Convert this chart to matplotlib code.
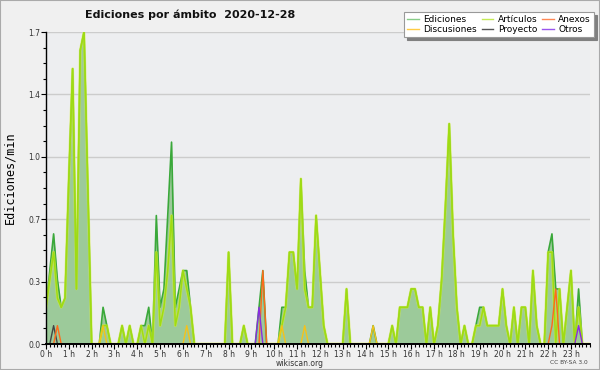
import matplotlib.pyplot as plt
import numpy as np
from matplotlib.lines import Line2D
from matplotlib.patches import Rectangle
from matplotlib.ticker import FixedLocator, MultipleLocator

plt.rcParams.update({
    "font.family": "DejaVu Sans",
    "axes.linewidth": 1.0,
})

# ---------------------------------------------------------------------------
# Data: edits per minute, 10-minute bins (6 per hour), 2020-12-28
# ---------------------------------------------------------------------------
ediciones = [
    0.2, 0.4, 0.6, 0.35, 0.2, 0.25,   # 0 h
    0.9, 1.5, 0.3, 1.6, 1.7, 0.85,    # 1 h
    0, 0, 0, 0.2, 0.1, 0,             # 2 h
    0, 0, 0.1, 0, 0.1, 0,             # 3 h
    0, 0.1, 0.1, 0.2, 0, 0.7,         # 4 h
    0.2, 0.3, 0.7, 1.1, 0.2, 0.3,     # 5 h
    0.4, 0.4, 0.2, 0, 0, 0,           # 6 h
    0, 0, 0, 0, 0, 0,                 # 7 h
    0.5, 0, 0, 0, 0.1, 0,             # 8 h
    0, 0, 0.2, 0.4, 0, 0,             # 9 h
    0, 0, 0.2, 0.2, 0.5, 0.5,         # 10 h
    0.3, 0.9, 0.4, 0.2, 0.2, 0.7,     # 11 h
    0.4, 0.1, 0, 0, 0, 0,             # 12 h
    0, 0.3, 0, 0, 0, 0,               # 13 h
    0, 0, 0.1, 0, 0, 0,               # 14 h
    0, 0.1, 0, 0.2, 0.2, 0.2,         # 15 h
    0.3, 0.3, 0.2, 0.2, 0, 0.2,       # 16 h
    0, 0.1, 0.35, 0.75, 1.2, 0.6,     # 17 h
    0.2, 0, 0.1, 0, 0, 0.1,           # 18 h
    0.2, 0.2, 0.1, 0.1, 0.1, 0.1,     # 19 h
    0.3, 0.1, 0, 0.2, 0, 0.2,         # 20 h
    0.2, 0, 0.4, 0.1, 0, 0,           # 21 h
    0.5, 0.6, 0.3, 0.3, 0, 0.2,       # 22 h
    0.4, 0, 0.3, 0, 0, 0,             # 23 h
]
articulos = [
    0.2, 0.35, 0.5, 0.25, 0.2, 0.25,
    0.9, 1.5, 0.3, 1.6, 1.7, 0.85,
    0, 0, 0, 0.1, 0.1, 0,
    0, 0, 0.1, 0, 0.1, 0,
    0, 0.1, 0, 0.1, 0, 0.5,
    0.1, 0.2, 0.4, 0.7, 0.1, 0.2,
    0.4, 0.3, 0.2, 0, 0, 0,
    0, 0, 0, 0, 0, 0,
    0.5, 0, 0, 0, 0.1, 0,
    0, 0, 0, 0, 0, 0,
    0, 0, 0.1, 0.2, 0.5, 0.5,
    0.3, 0.9, 0.3, 0.2, 0.2, 0.7,
    0.4, 0.1, 0, 0, 0, 0,
    0, 0.3, 0, 0, 0, 0,
    0, 0, 0, 0, 0, 0,
    0, 0.1, 0, 0.2, 0.2, 0.2,
    0.3, 0.3, 0.2, 0.2, 0, 0.2,
    0, 0.1, 0.35, 0.75, 1.2, 0.6,
    0.2, 0, 0.1, 0, 0, 0.1,
    0.1, 0.2, 0.1, 0.1, 0.1, 0.1,
    0.3, 0.1, 0, 0.2, 0, 0.2,
    0.2, 0, 0.4, 0.1, 0, 0,
    0.5, 0.5, 0, 0.3, 0, 0.2,
    0.4, 0, 0.2, 0, 0, 0,
]
# sparse series: bin index -> value
discusiones_bins = [15, 37, 62, 68, 86]
discusiones_vals = [0.1, 0.1, 0.1, 0.1, 0.1]
proyecto_bins = [2]
proyecto_vals = [0.1]
anexos_bins = [3, 57, 133, 134]
anexos_vals = [0.1, 0.4, 0.1, 0.3]
otros_bins = [56, 140]
otros_vals = [0.2, 0.1]

hour_labels = [f"{h} h" for h in range(24)]

# ---------------------------------------------------------------------------
# Colours
# ---------------------------------------------------------------------------
FILL_COLOR = "#9cca9a"
ED_COLOR = "#3aa83a"
ART_COLOR = "#9fdc12"
ART_GLOW = "#d9f03a"
DISC_COLOR = "#f5c21b"
PROY_COLOR = "#444444"
ANEX_COLOR = "#ff6a1a"
OTROS_COLOR = "#8a2be2"

n_bins = len(ediciones)
x = np.arange(n_bins) / 6.0


def sparse(bins, vals):
    arr = np.zeros(n_bins)
    arr[bins] = vals
    return arr


disc = sparse(discusiones_bins, discusiones_vals)
proy = sparse(proyecto_bins, proyecto_vals)
anex = sparse(anexos_bins, anexos_vals)
otros = sparse(otros_bins, otros_vals)

# ---------------------------------------------------------------------------
# Figure
# ---------------------------------------------------------------------------
fig = plt.figure(figsize=(6, 3.7), dpi=100, facecolor="#f0f0f0")
ax = fig.add_axes([46 / 600, 26 / 370, 544 / 600, 312 / 370])
ax.set_facecolor("#edeef0")

ax.fill_between(x, ediciones, 0, color=FILL_COLOR, lw=0, zorder=1.5)
ax.plot(x, ediciones, color=ED_COLOR, lw=1.2, zorder=2.0)
ax.plot(x, articulos, color=ART_GLOW, lw=2.0, alpha=0.6, zorder=2.1)
ax.plot(x, articulos, color=ART_COLOR, lw=1.1, zorder=2.2)
ax.plot(x, disc, color=DISC_COLOR, lw=1.0, zorder=2.3)
ax.plot(x, proy, color=PROY_COLOR, lw=1.0, zorder=2.3)
ax.plot(x, anex, color=ANEX_COLOR, lw=1.0, zorder=2.4)
ax.plot(x, otros, color=OTROS_COLOR, lw=1.0, zorder=2.4)

ymax = max(ediciones)
ax.set_xlim(0, x[-1])
ax.set_ylim(0, ymax)
yt = np.linspace(0, ymax, 6)
ax.yaxis.set_major_locator(FixedLocator(yt))
ax.set_yticklabels([f"{v:.1f}" for v in yt])
ax.yaxis.set_minor_locator(MultipleLocator(ymax / 20))
ax.set_xticks(range(24))
ax.set_xticklabels(hour_labels)
ax.xaxis.set_minor_locator(MultipleLocator(1 / 6))

ax.tick_params(axis="both", which="major", direction="out", length=3.5,
               width=0.8, color="black", labelsize=5.5, labelcolor="#333333", pad=0.5)
ax.tick_params(axis="both", which="minor", direction="out", length=2.5,
               width=0.8, color="black")
ax.spines["top"].set_visible(False)
ax.spines["right"].set_visible(False)
ax.spines["bottom"].set_linewidth(1.4)
ax.spines["bottom"].set_zorder(10)
ax.spines["left"].set_zorder(10)
ax.yaxis.grid(True, color="#cccccc", lw=1.0, zorder=1)
ax.set_axisbelow(True)

fig.text(85 / 600, 1 - 15 / 370, "Ediciones por ámbito  2020-12-28",
         fontsize=8, fontweight="bold", ha="left", va="center", color="#111111")
fig.text(10 / 600, 1 - 178 / 370, "Ediciones/min", rotation=90,
         family="DejaVu Sans Mono", fontsize=8.5, ha="center", va="center")
fig.text(300 / 600, 1 - 363 / 370, "wikiscan.org", fontsize=5.5,
         ha="center", va="center", color="#333333")
fig.text(588 / 600, 1 - 362 / 370, "CC BY-SA 3.0", fontsize=4.2,
         ha="right", va="center", color="#444444")

handles = [
    Line2D([], [], color="#88cc88", lw=1),
    Line2D([], [], color="#ffcc44", lw=1),
    Line2D([], [], color="#c4ea55", lw=1),
    Line2D([], [], color="#555555", lw=1),
    Line2D([], [], color="#ff8855", lw=1),
    Line2D([], [], color="#9955ee", lw=1),
]
labels = ["Ediciones", "Discusiones", "Artículos", "Proyecto", "Anexos", "Otros"]
leg = fig.legend(handles, labels, ncol=3, loc="upper right",
                 bbox_to_anchor=(594 / 600, 1 - 12 / 370), fontsize=6.5,
                 frameon=True, fancybox=False, framealpha=1,
                 shadow={"color": "#808080", "alpha": 1},
                 edgecolor="#999999", handlelength=1.3, handletextpad=0.5,
                 columnspacing=0.5, labelspacing=0.1, borderpad=0.35,
                 borderaxespad=0)
leg.get_frame().set_linewidth(0.8)

fig.add_artist(Rectangle((0, 0), 1, 1, transform=fig.transFigure, fill=False,
                         edgecolor="#aaaaaa", lw=1.5))

fig.savefig("out.png", dpi=100, facecolor=fig.get_facecolor())
